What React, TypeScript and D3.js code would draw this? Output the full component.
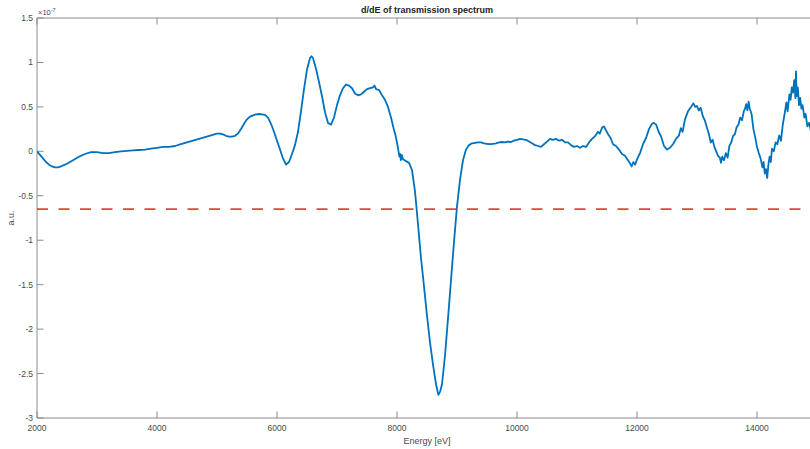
import React from "react";
import * as d3 from "d3";

// Derivative of the transmission spectrum (values in units of 1e-7 a.u.)
const energy: number[] = [
  2000, 2050, 2100, 2150, 2200, 2250, 2300, 2350, 2400, 2500, 2600, 2700, 2800, 2900,
  3000, 3100, 3200, 3300, 3400, 3500, 3600, 3700, 3800, 3900, 4000, 4100, 4200, 4300,
  4400, 4500, 4600, 4700, 4800, 4900, 5000, 5050, 5100, 5150, 5200, 5250, 5300, 5350,
  5400, 5450, 5500, 5550, 5600, 5650, 5700, 5750, 5800, 5850, 5900, 5950, 6000, 6050,
  6100, 6150, 6200, 6250, 6300, 6350, 6400, 6450, 6500, 6550, 6575, 6600, 6650, 6700,
  6750, 6800, 6850, 6900, 6950, 7000, 7050, 7100, 7150, 7200, 7250, 7300, 7350, 7400,
  7450, 7500, 7550, 7600, 7625, 7650, 7700, 7750, 7800, 7850, 7900, 7950, 7975, 8000,
  8025, 8040, 8050, 8065, 8080, 8100, 8150, 8200, 8250, 8300, 8350, 8400, 8450, 8500,
  8550, 8600, 8650, 8690, 8720, 8750, 8800, 8850, 8900, 8950, 9000, 9050, 9100, 9150,
  9200, 9250, 9300, 9350, 9400, 9450, 9500, 9550, 9600, 9650, 9700, 9750, 9800, 9850,
  9900, 9950, 10000, 10050, 10100, 10150, 10200, 10250, 10300, 10350, 10400, 10450,
  10500, 10550, 10600, 10650, 10700, 10750, 10800, 10850, 10900, 10950, 11000, 11050,
  11100, 11150, 11200, 11250, 11300, 11350, 11380, 11420, 11450, 11480, 11520, 11560,
  11600, 11650, 11700, 11750, 11800, 11850, 11880, 11910, 11940, 11970, 12000, 12050,
  12100, 12150, 12200, 12250, 12280, 12320, 12360, 12400, 12450, 12500, 12550, 12600,
  12650, 12700, 12730, 12760, 12800, 12850, 12900, 12940, 12970, 13000, 13030, 13060,
  13100, 13130, 13160, 13200, 13230, 13260, 13290, 13320, 13350, 13380, 13400, 13420,
  13450, 13480, 13510, 13540, 13570, 13600, 13630, 13660, 13690, 13720, 13750, 13780,
  13800, 13820, 13840, 13860, 13880, 13910, 13940, 13970, 14000, 14030, 14060, 14090,
  14110, 14130, 14150, 14170, 14190, 14210, 14230, 14250, 14280, 14310, 14340, 14370,
  14400, 14430, 14460, 14490, 14510, 14540, 14560, 14580, 14600, 14620, 14640, 14650,
  14660, 14680, 14700, 14720, 14740, 14760, 14790, 14810, 14840, 14870, 14900, 14950,
  15000,
];

const signal: number[] = [
  0.0, -0.04, -0.08, -0.12, -0.15, -0.17, -0.18, -0.18, -0.17, -0.14, -0.1, -0.06, -0.03, -0.01,
  -0.01, -0.02, -0.02, -0.01, 0.0, 0.005, 0.01, 0.015, 0.02, 0.03, 0.04, 0.05, 0.05, 0.06,
  0.08, 0.1, 0.12, 0.14, 0.16, 0.18, 0.2, 0.2, 0.19, 0.175, 0.165, 0.165, 0.175, 0.2,
  0.25, 0.31, 0.36, 0.39, 0.405, 0.415, 0.42, 0.415, 0.41, 0.38, 0.31, 0.22, 0.12, 0.02,
  -0.08, -0.15, -0.12, -0.03, 0.07, 0.22, 0.45, 0.7, 0.92, 1.05, 1.07, 1.05, 0.93, 0.78,
  0.62, 0.44, 0.32, 0.3, 0.38, 0.52, 0.63, 0.71, 0.75, 0.74, 0.71, 0.65, 0.63, 0.64,
  0.67, 0.7, 0.71, 0.72, 0.74, 0.7, 0.69, 0.63, 0.58, 0.5, 0.38, 0.24, 0.18, 0.1,
  0.0, -0.06, -0.03, -0.1, -0.04, -0.09, -0.11, -0.13, -0.21, -0.45, -0.82, -1.2, -1.52, -1.85,
  -2.15, -2.4, -2.62, -2.74, -2.7, -2.62, -2.3, -1.88, -1.45, -1.02, -0.62, -0.32, -0.1, 0.02,
  0.07, 0.09, 0.095, 0.1, 0.1, 0.09, 0.085, 0.08, 0.085, 0.09, 0.1, 0.105, 0.1, 0.11,
  0.105, 0.12, 0.13, 0.14, 0.135, 0.13, 0.11, 0.09, 0.07, 0.06, 0.05, 0.08,
  0.11, 0.14, 0.13, 0.14, 0.12, 0.13, 0.1, 0.1, 0.07, 0.05, 0.06, 0.04,
  0.06, 0.05, 0.1, 0.14, 0.17, 0.22, 0.2, 0.27, 0.28, 0.24, 0.19, 0.15,
  0.08, 0.06, 0.02, -0.03, -0.05, -0.1, -0.13, -0.17, -0.12, -0.15, -0.09, -0.02,
  0.08, 0.15, 0.25, 0.31, 0.32, 0.3, 0.22, 0.17, 0.06, 0.02, 0.04, 0.08,
  0.14, 0.18, 0.26, 0.22, 0.36, 0.45, 0.5, 0.54, 0.5, 0.51, 0.46, 0.49,
  0.39, 0.35, 0.28, 0.19, 0.1, 0.13, 0.05, 0.0, -0.05, -0.07, -0.13, -0.06,
  -0.1, -0.02, -0.07, 0.06, 0.1, 0.17, 0.19, 0.27, 0.3, 0.38, 0.35, 0.45,
  0.48, 0.53, 0.46, 0.56, 0.48, 0.42, 0.25, 0.16, 0.05, -0.02, -0.08, -0.18,
  -0.12, -0.25, -0.2, -0.3, -0.15, -0.06, -0.12, 0.03, 0.0, 0.1, 0.08, 0.18,
  0.12, 0.3, 0.42, 0.55, 0.45, 0.64, 0.58, 0.72, 0.66, 0.8, 0.6, 0.9,
  0.62, 0.72, 0.52, 0.6, 0.48, 0.52, 0.38, 0.42, 0.28, 0.32, 0.22, 0.2,
  0.24,
];

const threshold = -0.65;

const xTicks: number[] = [2000, 4000, 6000, 8000, 10000, 12000, 14000];
const yTicks: number[] = [1.5, 1, 0.5, 0, -0.5, -1, -1.5, -2, -2.5, -3];

const W = 810;
const H = 449;
const margin = { left: 37, top: 18, right: -7, bottom: 31 };
const FONT = "'Liberation Sans', Arial, Helvetica, sans-serif";
const AXIS = "#8c8c8c";
const TEXT = "#4a4a4a";

export default function App() {
  const x = d3
    .scaleLinear()
    .domain([2000, 15000])
    .range([margin.left, W - margin.right]);
  const y = d3
    .scaleLinear()
    .domain([-3, 1.5])
    .range([H - margin.bottom, margin.top]);

  const pts: [number, number][] = energy.map((e, i) => [e, signal[i]]);
  const line = d3
    .line<[number, number]>()
    .x((d) => x(d[0]))
    .y((d) => y(d[1]));

  const x0 = x.range()[0];
  const x1 = x.range()[1];
  const yTop = y.range()[1];
  const yBot = y.range()[0];
  const tick = 6.5;
  const fmtY = (v: number) => (v < 0 ? "-" + String(Math.abs(v)) : String(v));

  return (
    <svg
      width={W}
      height={H}
      style={{ position: "fixed", left: 0, top: 0, background: "#fff" }}
      fontFamily={FONT}
    >
      <defs>
        <clipPath id="plot-area">
          <rect x={x0} y={yTop} width={x1 - x0} height={yBot - yTop} />
        </clipPath>
      </defs>

      {/* axes box */}
      <line x1={x0} x2={x1} y1={yBot} y2={yBot} stroke={AXIS} />
      <line x1={x0} x2={x1} y1={yTop} y2={yTop} stroke={AXIS} />
      <line x1={x0} x2={x0} y1={yTop} y2={yBot} stroke={AXIS} />

      {/* x ticks, bottom and top */}
      {xTicks.map((t) => (
        <g key={"xt" + t}>
          <line x1={x(t)} x2={x(t)} y1={yBot} y2={yBot - tick} stroke={AXIS} />
          <line x1={x(t)} x2={x(t)} y1={yTop} y2={yTop + tick} stroke={AXIS} />
          <text
            x={x(t)}
            y={yBot + 13}
            fontSize={8.5}
            fill={TEXT}
            textAnchor="middle"
          >
            {t}
          </text>
        </g>
      ))}

      {/* y ticks */}
      {yTicks.map((t) => (
        <g key={"yt" + t}>
          <line x1={x0} x2={x0 + tick} y1={y(t)} y2={y(t)} stroke={AXIS} />
          <text
            x={x0 - 4}
            y={y(t) + 3}
            fontSize={8.5}
            fill={TEXT}
            textAnchor="end"
          >
            {fmtY(t)}
          </text>
        </g>
      ))}

      {/* exponent */}
      <text x={x0 + 1} y={15} fontSize={7.5} fill={TEXT}>
        ×10
        <tspan dy={-3} fontSize={5.5}>
          -7
        </tspan>
      </text>

      {/* title and labels */}
      <text
        x={(x0 + x1) / 2}
        y={13}
        fontSize={9}
        fontWeight="bold"
        fill="#222"
        textAnchor="middle"
      >
        d/dE of transmission spectrum
      </text>
      <text
        x={(x0 + x1) / 2}
        y={444}
        fontSize={9}
        fill={TEXT}
        textAnchor="middle"
      >
        Energy [eV]
      </text>
      <text
        transform={`translate(14, ${(yTop + yBot) / 2}) rotate(-90)`}
        fontSize={9}
        fill={TEXT}
        textAnchor="middle"
      >
        a.u.
      </text>

      <g clipPath="url(#plot-area)">
        <path
          d={line(pts) ?? ""}
          fill="none"
          stroke="#0072BD"
          strokeWidth={1.8}
          strokeLinejoin="round"
        />
        <line
          x1={x0}
          x2={x1}
          y1={y(threshold)}
          y2={y(threshold)}
          stroke="#dc4b36"
          strokeWidth={1.8}
          strokeDasharray="11 10.5"
        />
      </g>
    </svg>
  );
}
